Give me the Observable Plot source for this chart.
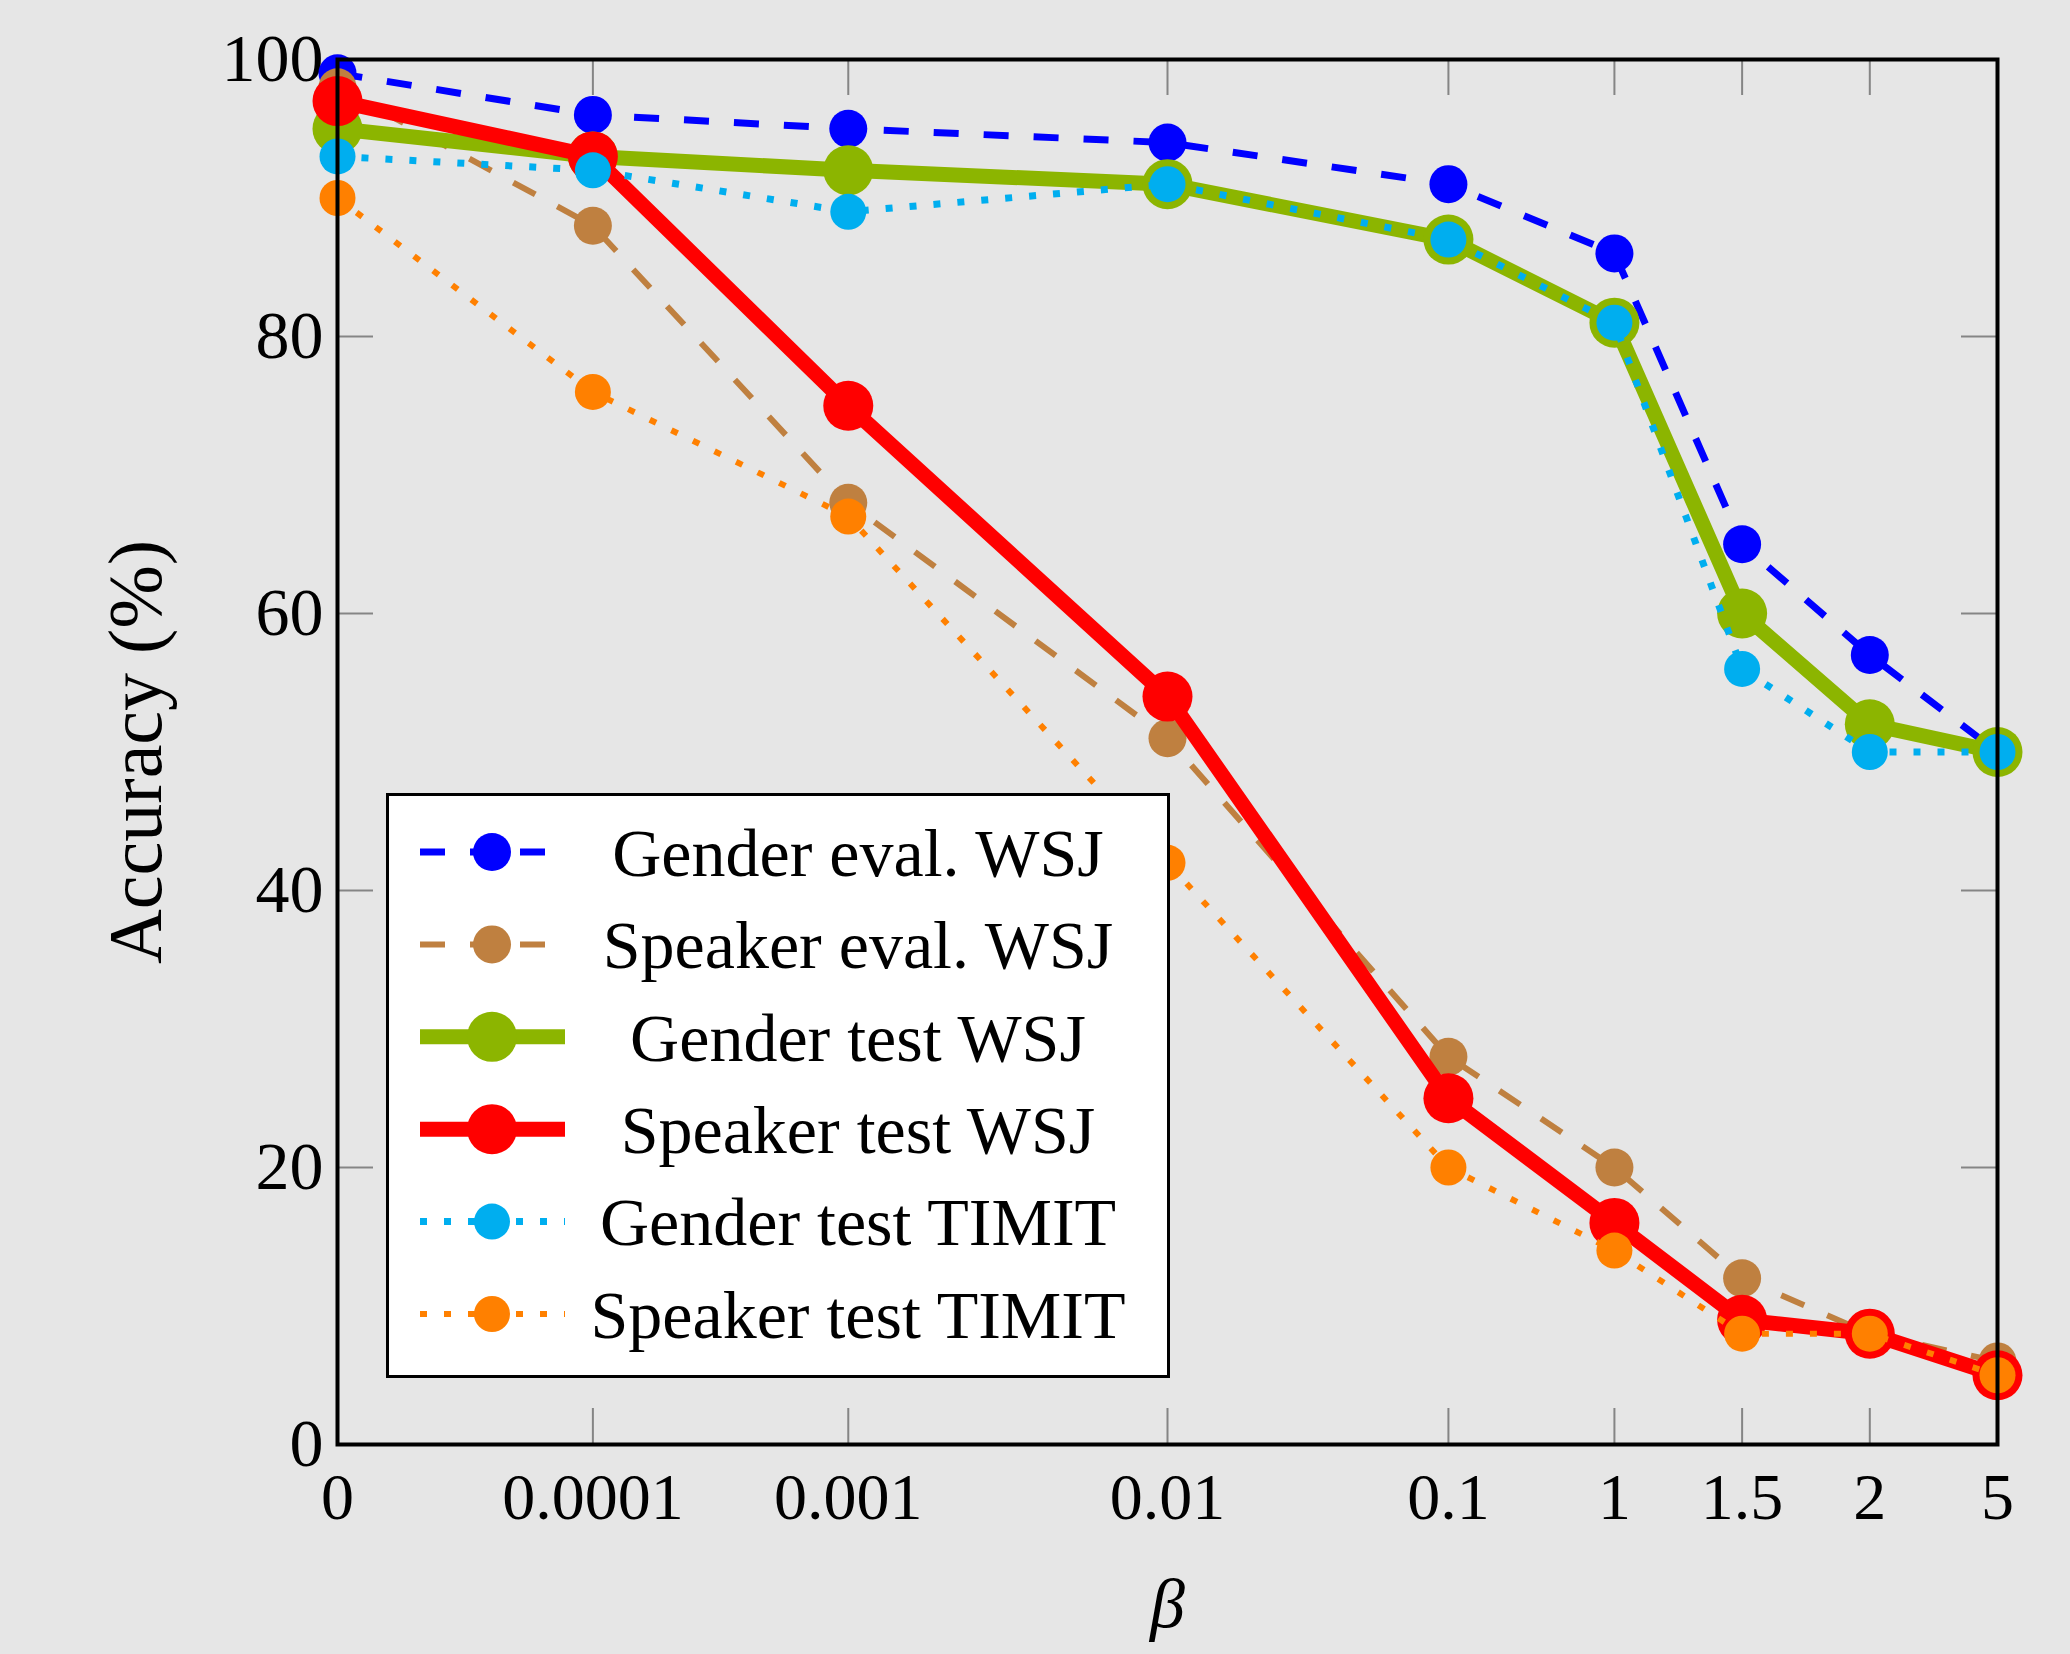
<!DOCTYPE html>
<html>
<head>
<meta charset="utf-8">
<script src="https://cdn.jsdelivr.net/npm/d3@7"></script>
<script src="https://cdn.jsdelivr.net/npm/@observablehq/plot@0.6"></script>
<style>
  html, body { margin: 0; padding: 0; background: #e6e6e6; }
  #wrap { position: relative; width: 2070px; height: 1654px; }
</style>
</head>
<body>
<div id="wrap"></div>
<script>
// ---- data ----
const betaLabels = ["0", "0.0001", "0.001", "0.01", "0.1", "1", "1.5", "2", "5"];
const betaPos = [0, 2, 4, 6.5, 8.7, 10, 11, 12, 13];
const yTicks = [0, 20, 40, 60, 80, 100];

const seriesNames = [
  "Gender eval. WSJ",
  "Speaker eval. WSJ",
  "Gender test WSJ",
  "Speaker test WSJ",
  "Gender test TIMIT",
  "Speaker test TIMIT"
];
const genderEvalWSJ    = [99, 96, 95, 94, 91, 86, 65, 57, 50];
const speakerEvalWSJ   = [98, 88, 68, 51, 28, 20, 12, 8, 6];
const genderTestWSJ    = [95, 93, 92, 91, 87, 81, 60, 52, 50];
const speakerTestWSJ   = [97, 93, 75, 54, 25, 16, 9, 8, 5];
const genderTestTIMIT  = [93, 92, 89, 91, 87, 81, 56, 50, 50];
const speakerTestTIMIT = [90, 76, 67, 42, 20, 14, 8, 8, 5];
const seriesValues = [genderEvalWSJ, speakerEvalWSJ, genderTestWSJ, speakerTestWSJ, genderTestTIMIT, speakerTestTIMIT];

// ---- styles ----
const styles = [
  {color: "#0000ff", width: 7,  dash: "25,25", r: 19},
  {color: "#bf8040", width: 6,  dash: "25,25", r: 19},
  {color: "#8cb500", width: 15, dash: null,    r: 25},
  {color: "#ff0000", width: 15, dash: null,    r: 25},
  {color: "#00aeef", width: 7,  dash: "7,17",  r: 18},
  {color: "#ff8000", width: 6,  dash: "7,17",  r: 18}
];

const W = 2070, H = 1654;
const mL = 337, mR = 73, mT = 59, mB = 210;
const plotW = W - mL - mR, plotH = H - mT - mB;
const FONT = "'Liberation Serif', 'DejaVu Serif', serif";

const series = seriesNames.map((name, k) => ({
  name,
  ...styles[k],
  data: seriesValues[k].map((v, i) => ({x: betaPos[i], y: v, name}))
}));

const dataMarks = [];
for (const s of series) {
  dataMarks.push(Plot.line(s.data, {
    x: "x", y: "y", stroke: s.color, strokeWidth: s.width,
    strokeDasharray: s.dash ?? undefined, strokeLinejoin: "miter", strokeLinecap: "butt"
  }));
  dataMarks.push(Plot.dot(s.data, {x: "x", y: "y", r: s.r, fill: s.color, stroke: "none"}));
}

const chart = Plot.plot({
  width: W, height: H,
  marginLeft: mL, marginRight: mR, marginTop: mT, marginBottom: mB,
  style: {background: "#e6e6e6", fontFamily: FONT, color: "black"},
  x: {domain: [0, 13]},
  y: {domain: [0, 100]},
  marks: [
    Plot.tickY(yTicks, {y: d => d, stroke: "#858585", strokeWidth: 2, insetRight: plotW - 36}),
    Plot.tickY(yTicks, {y: d => d, stroke: "#858585", strokeWidth: 2, insetLeft: plotW - 36}),
    Plot.tickX(betaPos, {x: d => d, stroke: "#858585", strokeWidth: 2, insetBottom: plotH - 36}),
    Plot.tickX(betaPos, {x: d => d, stroke: "#858585", strokeWidth: 2, insetTop: plotH - 36}),
    Plot.axisY({ticks: yTicks, tickSize: 0, tickPadding: 14, fontSize: 68, label: null}),
    Plot.axisX({ticks: betaPos, tickFormat: d => betaLabels[betaPos.indexOf(d)], tickSize: 0, tickPadding: 28, fontSize: 66, label: null}),
    ...dataMarks,
    Plot.frame({stroke: "black", strokeWidth: 4}),
    Plot.text(["Accuracy (%)"], {text: d => d, frameAnchor: "left", textAnchor: "middle", dx: -201, rotate: -90, fontSize: 76, fill: "black"}),
    Plot.text(["β"], {text: d => d, frameAnchor: "bottom", dy: 182, fontSize: 70, fontStyle: "italic", fill: "black"})
  ]
});

const wrap = document.getElementById("wrap");
wrap.appendChild(chart);

// ---- legend (inside plot area) ----
const LW = 784, LH = 585;
const leg = d3.create("svg")
  .attr("width", LW).attr("height", LH)
  .style("position", "absolute").style("left", "386px").style("top", "793px")
  .style("font-family", FONT);
leg.append("rect")
  .attr("x", 1.5).attr("y", 1.5).attr("width", LW - 3).attr("height", LH - 3)
  .attr("fill", "white").attr("stroke", "black").attr("stroke-width", 3);
series.forEach((s, i) => {
  const g = leg.append("g").attr("transform", `translate(0,${59 + i * 92.4})`);
  g.append("line")
    .attr("x1", 34).attr("x2", 179).attr("y1", 0).attr("y2", 0)
    .attr("stroke", s.color).attr("stroke-width", s.width)
    .attr("stroke-dasharray", s.dash);
  g.append("circle").attr("cx", 106).attr("cy", 0).attr("r", s.r).attr("fill", s.color);
  g.append("text")
    .attr("x", 472).attr("y", 0).attr("dy", "0.35em")
    .attr("text-anchor", "middle").attr("font-size", 68).attr("fill", "black")
    .text(s.name);
});
wrap.appendChild(leg.node());
</script>
</body>
</html>
